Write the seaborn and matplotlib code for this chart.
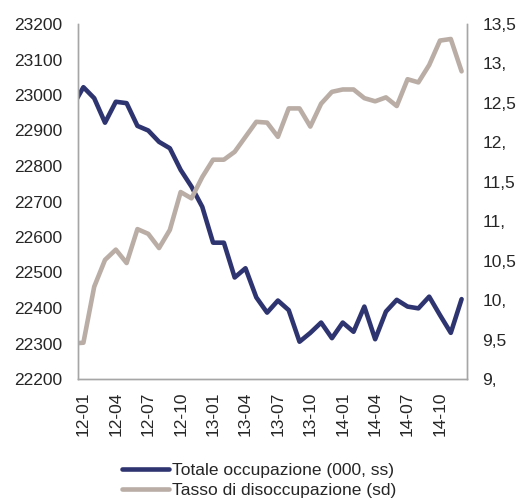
import numpy as np
import pandas as pd
import seaborn as sns
import matplotlib
matplotlib.use("Agg")
import matplotlib.pyplot as plt

# months: 11-12 (partially clipped at left edge) through 14-12
months = ["11-12"] + [f"{y}-{m:02d}" for y in (12, 13, 14) for m in range(1, 13)]

occupazione = [22968,
               23022, 22991, 22922, 22981, 22977, 22913, 22900, 22868, 22850, 22789, 22742, 22685,
               22584, 22584, 22486, 22512, 22430, 22387, 22421, 22394, 22305, 22330, 22359, 22315,
               22359, 22333, 22404, 22312, 22390, 22423, 22404, 22399, 22432, 22380, 22330, 22425]

disoccupazione = [9.45,
                  9.46, 10.17, 10.51, 10.64, 10.47, 10.90, 10.84, 10.66, 10.89, 11.37, 11.29, 11.56,
                  11.78, 11.78, 11.88, 12.07, 12.26, 12.25, 12.07, 12.43, 12.43, 12.20, 12.49, 12.64,
                  12.67, 12.67, 12.56, 12.52, 12.57, 12.46, 12.80, 12.76, 12.98, 13.29, 13.31, 12.90]

tick_months = ["12-01", "12-04", "12-07", "12-10", "13-01", "13-04",
               "13-07", "13-10", "14-01", "14-04", "14-07", "14-10"]

left_ticks = [22200, 22300, 22400, 22500, 22600, 22700, 22800, 22900, 23000, 23100, 23200]
right_ticks = [9.0, 9.5, 10.0, 10.5, 11.0, 11.5, 12.0, 12.5, 13.0, 13.5]
right_labels = ["9,", "9,5", "10,", "10,5", "11,", "11,5", "12,", "12,5", "13,", "13,5"]

label_occ = "Totale occupazione (000, ss)"
label_dis = "Tasso di disoccupazione (sd)"

sns.set_style("white")
plt.rcParams['font.family'] = ['Liberation Sans', 'DejaVu Sans']

df = pd.DataFrame({
    "month": months,
    "pos": np.arange(len(months)) - 1,
    "occ": occupazione,
    "dis": disoccupazione,
})

navy = "#2e3470"
tan = "#b9ada6"
spine_c = "#a6a6a6"
fs = 12.5

fig = plt.figure(figsize=(5.21, 5.0), dpi=100)
ax = fig.add_axes([78 / 521, 1 - 379 / 500, (467 - 78) / 521, (379 - 24) / 500])
ax2 = ax.twinx()

sns.lineplot(data=df, x="pos", y="occ", ax=ax, color=navy, linewidth=3.3, label=label_occ, legend=False)
sns.lineplot(data=df, x="pos", y="dis", ax=ax2, color=tan, linewidth=3.3, label=label_dis, legend=False)

ax.set_xlim(-0.5, 35.5)
ax.set_ylim(22200, 23200)
ax2.set_ylim(9.0, 13.5)

tick_pos = [months.index(m) - 1 for m in tick_months]
ax.set_xticks(tick_pos)
ax.set_xticklabels(tick_months, rotation=90, fontsize=fs)
ax.set_yticks(left_ticks)
ax.set_yticklabels([str(v) for v in left_ticks], fontsize=fs)
ax2.set_yticks(right_ticks)
ax2.set_yticklabels(right_labels, fontsize=fs)

ax.tick_params(axis="y", length=0, pad=11)
ax.tick_params(axis="x", length=0, pad=9)
ax2.tick_params(axis="y", length=0, pad=11)
ax.set_xlabel("")
ax.set_ylabel("")
ax2.set_ylabel("")

for a in (ax, ax2):
    a.spines["top"].set_visible(False)
    for s in ("left", "right", "bottom"):
        a.spines[s].set_color(spine_c)
        a.spines[s].set_linewidth(1.0)
    a.grid(False)

h1, l1 = ax.get_legend_handles_labels()
h2, l2 = ax2.get_legend_handles_labels()
fig.legend(h1 + h2, l1 + l2, loc="upper left", bbox_to_anchor=(122 / 521, 1 - 463 / 500),
           frameon=False, fontsize=fs, handlelength=2.7, handletextpad=0.2,
           labelspacing=0.27, borderpad=0, borderaxespad=0)

fig.savefig("out.png", dpi=100)
